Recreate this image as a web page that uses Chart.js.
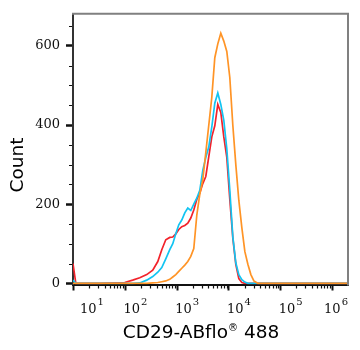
<!DOCTYPE html>
<html><head><meta charset="utf-8">
<script src="https://cdn.jsdelivr.net/npm/chart.js@4/dist/chart.umd.min.js"></script>
<style>html,body{margin:0;padding:0;background:#fff}</style>
</head><body>
<canvas id="c" width="360" height="350" style="display:block;width:360px;height:350px"></canvas>
<script>
// Channel (fluorescence intensity) positions of the histogram points
const channels = [9.7, 11, 32, 97, 138, 189, 258, 337, 422, 504, 602, 719, 822, 940, 1074, 1227, 1403, 1603, 1832, 2094, 2393, 2735, 3126, 3572, 4083, 4666, 5333, 6095, 6966, 7962, 9099, 10400, 11885, 13584, 15525, 17783, 20324, 23228, 26546, 30339, 36224, 49431, 150661, 2000000];
// Event counts per channel
const redCounts = [50,0,0,2,8,14,22,33,55,85,110,116,117,125,136,143,146,152,165,185,212,228,252,270,320,370,398,452,432,370,318,212,115,48,12,2,0,0,0,0,0,0,0,0];
const cyanCounts = [8,0,0,0,0,1,8,17,28,40,62,85,100,125,148,160,178,190,184,200,215,235,285,318,345,395,455,481,452,412,340,235,118,52,22,9,3,0,0,0,0,0,0,0];
const orangeCounts = [0,0,0,0,0,0,0,1,2,4,6,10,16,22,30,38,46,55,68,88,172,225,262,330,400,470,570,605,632,612,586,520,400,300,210,140,80,48,22,6,0,0,0,0];
// Axis ticks
const yMajorTicks = [0, 200, 400, 600];
const yAllTicks = [0,50,100,150,200,250,300,350,400,450,500,550,600,650];
const xDecades = [10, 100, 1000, 10000, 100000, 1000000];
const xExponents = ['1','2','3','4','5','6'];
const xTitle = ['CD29-ABflo', '\u00AE', ' 488'];
const yTitle = 'Count';

const X_MIN = 9.7, X_MAX = 2000000, Y_MIN = -3, Y_MAX = 681;

function xTickValues() {
  const out = [];
  for (const d of xDecades) {
    for (let k = 1; k <= 9; k++) {
      const v = k * d;
      if (v > X_MIN && v < X_MAX) out.push({value: v, major: k === 1});
    }
  }
  return out;
}

const mk = (arr) => channels.map((x, i) => ({x: x, y: arr[i]}));

const decor = {
  id: 'decor',
  afterDraw(chart) {
    const ctx = chart.ctx;
    const a = chart.chartArea;
    const xs = chart.scales.x, ys = chart.scales.y;
    ctx.save();
    // frame top/right
    ctx.strokeStyle = '#808080';
    ctx.lineWidth = 2;
    ctx.beginPath();
    ctx.moveTo(a.left - 1, a.top);
    ctx.lineTo(a.right, a.top);
    ctx.lineTo(a.right, a.bottom + 1);
    ctx.stroke();
    // minor ticks
    ctx.strokeStyle = '#111';
    ctx.lineWidth = 1.2;
    ctx.beginPath();
    for (const t of xs.ticks) {
      if (t.major) continue;
      const px = Math.round(xs.getPixelForValue(t.value)) + 0.5;
      ctx.moveTo(px, a.bottom + 1);
      ctx.lineTo(px, a.bottom + 4);
    }
    for (const t of ys.ticks) {
      if (yMajorTicks.includes(t.value)) continue;
      const py = Math.round(ys.getPixelForValue(t.value)) + 0.5;
      ctx.moveTo(a.left - 1, py);
      ctx.lineTo(a.left - 4, py);
    }
    ctx.stroke();
    // x tick labels: 10 with superscript exponent
    ctx.fillStyle = '#111';
    ctx.textBaseline = 'alphabetic';
    ctx.textAlign = 'left';
    xDecades.forEach((v, i) => {
      const px = xs.getPixelForValue(v);
      ctx.font = '13px "DejaVu Serif"';
      const w10 = ctx.measureText('10').width;
      ctx.font = '10px "DejaVu Serif"';
      const we = ctx.measureText(xExponents[i]).width;
      const total = w10 + 1 + we;
      let left = px - 2;
      left = Math.max(left, a.left + 7);
      left = Math.min(left, a.right - total);
      ctx.font = '13px "DejaVu Serif"';
      ctx.fillText('10', left, 313);
      ctx.font = '10px "DejaVu Serif"';
      ctx.fillText(xExponents[i], left + w10 + 1, 305);
    });
    // x title
    ctx.fillStyle = '#000';
    const big = '18.5px "DejaVu Sans"', small = '10px "DejaVu Sans"';
    ctx.font = big; const w1 = ctx.measureText(xTitle[0]).width;
    ctx.font = small; const w2 = ctx.measureText(xTitle[1]).width;
    ctx.font = big; const w3 = ctx.measureText(xTitle[2]).width;
    let sx = 201 - (w1 + w2 + w3) / 2;
    ctx.font = big; ctx.fillText(xTitle[0], sx, 338);
    ctx.font = small; ctx.fillText(xTitle[1], sx + w1, 331);
    ctx.font = big; ctx.fillText(xTitle[2], sx + w1 + w2, 338);
    // y title
    ctx.translate(18, 165);
    ctx.rotate(-Math.PI / 2);
    ctx.textAlign = 'center';
    ctx.textBaseline = 'middle';
    ctx.font = big;
    ctx.fillText(yTitle, 0, 0);
    ctx.restore();
  }
};

new Chart(document.getElementById('c'), {
  type: 'scatter',
  data: {
    datasets: [
      {label: 'orange', data: mk(orangeCounts), borderColor: '#FF9426'},
      {label: 'cyan', data: mk(cyanCounts), borderColor: '#12C4F2'},
      {label: 'red', data: mk(redCounts), borderColor: '#F2232B'}
    ].map(d => Object.assign(d, {showLine: true, pointRadius: 0, borderWidth: 1.7, tension: 0, fill: false}))
  },
  options: {
    responsive: false,
    animation: false,
    devicePixelRatio: 1,
    layout: {padding: {left: 0, right: 12, top: 11, bottom: 0}},
    plugins: {legend: {display: false}, tooltip: {enabled: false}},
    scales: {
      x: {
        type: 'logarithmic',
        min: X_MIN, max: X_MAX,
        afterBuildTicks: (s) => { s.ticks = xTickValues(); },
        afterFit: (s) => { s.height = 65.5; },
        ticks: {display: false, autoSkip: false},
        grid: {
          drawOnChartArea: false, drawTicks: true, tickLength: 6,
          tickColor: (c) => (c.tick && c.tick.major) ? '#111' : 'rgba(0,0,0,0)',
          tickWidth: 2
        },
        border: {display: true, color: '#111', width: 2}
      },
      y: {
        type: 'linear',
        min: Y_MIN, max: Y_MAX,
        afterBuildTicks: (s) => { s.ticks = yAllTicks.map(v => ({value: v})); },
        afterFit: (s) => { s.width = 73; },
        ticks: {
          autoSkip: false, padding: 6, color: '#111',
          font: {family: '"DejaVu Serif"', size: 13},
          callback: (v) => yMajorTicks.includes(v) ? String(v) : ''
        },
        grid: {
          drawOnChartArea: false, drawTicks: true, tickLength: 7,
          tickColor: (c) => (c.tick && yMajorTicks.includes(c.tick.value)) ? '#111' : 'rgba(0,0,0,0)',
          tickWidth: 2.5
        },
        border: {display: true, color: '#333', width: 2}
      }
    }
  },
  plugins: [decor]
});
</script>
</body></html>
